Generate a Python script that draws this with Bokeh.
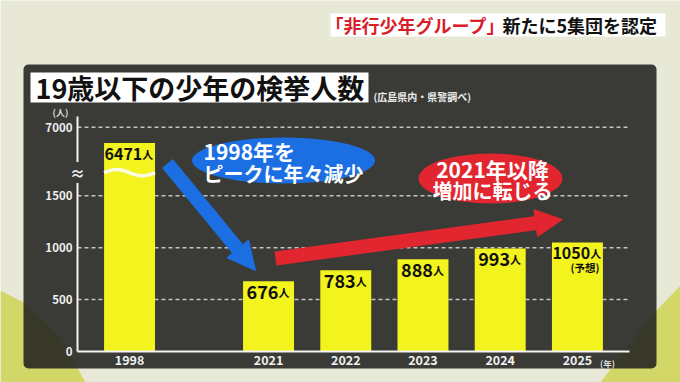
import numpy as np
from bokeh.plotting import figure
from bokeh.models import (Range1d, FixedTicker, BoxAnnotation, PolyAnnotation, Label,
                          Arrow, NormalHead, ColumnDataSource)
from bokeh.core.properties import value
from bokeh.embed import file_html
from bokeh.resources import INLINE

# ---------------- data ----------------
YEARS = [1998, 2021, 2022, 2023, 2024, 2025]
YEAR_LABELS = ["1998", "2021", "2022", "2023", "2024", "2025"]
COUNTS = [6471, 676, 783, 888, 993, 1050]
NOTES = ["", "", "", "", "", "(予想)"]
Y_TICKS = [0, 500, 1000, 1500, 7000]
UNIT = "人"

TITLE = "19歳以下の少年の検挙人数"
SOURCE = "(広島県内・県警調べ)"
HEAD_RED = "「非行少年グループ」"
HEAD_BLACK = "新たに5集団を認定"
BUBBLE_BLUE = ["1998年を", "ピークに年々減少"]
BUBBLE_RED = ["2021年以降", "増加に転じる"]

FONT_NAME = "Noto Sans CJK JP"
FONT = value(FONT_NAME)

# ---------------- broken axes ----------------
def x_pos(year):
    # gap between 1998 and 2021 on the x axis
    return 0 if year == 1998 else 18 + 10 * (year - 2021)

UPPER_TOP, UPPER_AT, UPPER_SCALE = 7000, 2160, 0.29
def y_pos(v):
    # linear up to the break, compressed segment above it
    return v if v <= 3000 else UPPER_AT - (UPPER_TOP - v) * UPPER_SCALE

BREAK_Y = 1722
X_AXIS_SPAN = (-6.74, 64.74)
Y_AXIS_SPAN = (0, 2263)

# ---------------- figure ----------------
BG = "#e7e8d5"
p = figure(width=680, height=382, output_backend="svg", toolbar_location=None,
           title_location=None,
           x_range=Range1d(-16.711, 71.347), y_range=Range1d(-298.5, 3379.9),
           min_border=0, min_border_left=0, min_border_right=0,
           min_border_top=0, min_border_bottom=0,
           border_fill_color=BG, background_fill_color=BG, outline_line_color=None)

# background decorations
p.add_layout(PolyAnnotation(xs=[0, 23, 60, 85, 0], ys=[290, 302, 337, 382, 382],
                            xs_units="canvas", ys_units="canvas",
                            fill_color="#d3d767", fill_alpha=1, line_color=None, level="image"))
p.add_layout(PolyAnnotation(xs=[680, 656, 630, 600, 680], ys=[285, 310, 342, 382, 382],
                            xs_units="canvas", ys_units="canvas",
                            fill_color="#d3d767", fill_alpha=1, line_color=None, level="image"))
# dark panel
p.add_layout(BoxAnnotation(left=23, right=656, top=64, bottom=368,
                           left_units="canvas", right_units="canvas",
                           top_units="canvas", bottom_units="canvas",
                           fill_color="#222220", fill_alpha=0.88, line_color=None,
                           border_radius=5, level="image"))

# axes (fixed inside the panel)
p.xaxis.fixed_location = 0
p.xaxis.bounds = X_AXIS_SPAN
p.yaxis.fixed_location = X_AXIS_SPAN[0]
p.yaxis.bounds = Y_AXIS_SPAN
p.xaxis.ticker = FixedTicker(ticks=[x_pos(y) for y in YEARS])
p.xaxis.major_label_overrides = {x_pos(y): lab for y, lab in zip(YEARS, YEAR_LABELS)}
p.yaxis.ticker = FixedTicker(ticks=[y_pos(v) for v in Y_TICKS])
p.yaxis.major_label_overrides = {y_pos(v): str(v) for v in Y_TICKS}
for ax in (p.xaxis[0], p.yaxis[0]):
    ax.axis_line_color = "#f4f4f4"
    ax.axis_line_width = 2
    ax.major_tick_line_color = None
    ax.minor_tick_line_color = None
    ax.major_tick_out = 0
    ax.major_tick_in = 0
    ax.major_label_text_color = "#f0f0f0"
    ax.major_label_text_font = FONT_NAME
    ax.major_label_text_font_style = "bold"
p.xaxis.major_label_text_font_size = "12.5px"
p.xaxis.major_label_standoff = 3
p.yaxis.major_label_text_font_size = "11.5px"
p.yaxis.major_label_standoff = 5

p.xgrid.visible = False
p.ygrid.visible = False

# dashed grid lines at the y ticks
grid_y = [y_pos(v) for v in Y_TICKS if v > 0]
p.segment(x0=[X_AXIS_SPAN[0]] * len(grid_y), x1=[X_AXIS_SPAN[1]] * len(grid_y),
          y0=grid_y, y1=grid_y, line_color="#c4c4c4", line_dash="4 3", line_width=1.5)

# bars
NUM_FS = [16, 18, 18, 18, 18, 16]
UNIT_FS = 11
num_txt = [str(c) for c in COUNTS]
num_w = [len(t) * 0.57 * fs for t, fs in zip(num_txt, NUM_FS)]
num_dx = [(w - UNIT_FS) / 2 for w in num_w]

src = ColumnDataSource(dict(
    x=[x_pos(y) for y in YEARS],
    top=[y_pos(c) for c in COUNTS],
    num=num_txt,
    unit=[UNIT] * len(COUNTS),
    fs=[f"{f}px" for f in NUM_FS],
    dx=num_dx,
))
p.vbar(x="x", top="top", width=6.6, source=src, fill_color="#f3f31e", line_color=None)

# break wave on the 1998 bar
wx = np.linspace(x_pos(1998) - 3.3, x_pos(1998) + 3.3, 60)
wy = BREAK_Y + 30 * np.sin(2 * np.pi * (wx - wx[0]) / (wx[-1] - wx[0]))
p.line(wx, wy, line_color="#fbfbe6", line_width=3.5)

p.text(x="x", y="top", text="num", source=src, text_font=FONT, text_font_style="bold",
       text_font_size="fs", x_offset="dx", y_offset=11, text_align="right",
       text_baseline="alphabetic", text_color="#111111")
p.text(x="x", y="top", text="unit", source=src, text_font=FONT, text_font_style="bold",
       text_font_size=f"{UNIT_FS}px", x_offset="dx", y_offset=11, text_align="left",
       text_baseline="alphabetic", text_color="#111111")
nsrc = ColumnDataSource(dict(
    x=[x_pos(y) for y, n in zip(YEARS, NOTES) if n],
    top=[y_pos(c) for c, n in zip(COUNTS, NOTES) if n],
    note=[n for n in NOTES if n],
))
p.text(x="x", y="top", text="note", source=nsrc, text_font=FONT, text_font_style="bold",
       text_font_size="10.5px", x_offset=7.5, y_offset=25, text_align="center",
       text_baseline="middle", text_color="#111111")

# bubbles
BLUE = "#1c6fe3"
RED = "#e2262f"
p.ellipse(x=19.94, y=1839, width=183, height=46, width_units="screen", height_units="screen",
          fill_color=BLUE, line_color=None)
p.ellipse(x=46.74, y=1666, width=144, height=50, width_units="screen", height_units="screen",
          fill_color=RED, line_color=None)

# arrows
p.add_layout(Arrow(x_start=4.91, y_start=1810, x_end=16.31, y_end=780,
                   line_color=BLUE, line_width=14,
                   end=NormalHead(size=28, fill_color=BLUE, line_color=BLUE)))
p.add_layout(Arrow(x_start=18.90, y_start=896, x_end=56.07, y_end=1271,
                   line_color=RED, line_width=14,
                   end=NormalHead(size=27, fill_color=RED, line_color=RED)))

def canvas_label(x, y, text, size, color, align="left", baseline="middle", style="bold", **kw):
    p.add_layout(Label(x=x, y=y, x_units="canvas", y_units="canvas", text=text,
                       text_font=FONT_NAME, text_font_size=size, text_font_style=style,
                       text_color=color, text_align=align, text_baseline=baseline, **kw))

# bubble texts
canvas_label(203, 150, BUBBLE_BLUE[0], "21px", "white")
canvas_label(203, 173, BUBBLE_BLUE[1], "20px", "white")
canvas_label(492, 168, BUBBLE_RED[0], "21px", "white", align="center")
canvas_label(492, 190, BUBBLE_RED[1], "20px", "white", align="center")

# axis break mark
canvas_label(77, 172, "≈", "15px", "#f0f0f0", align="center",
             background_fill_color="#3a3a37")
# unit labels
canvas_label(60, 112, "(人)", "9px", "#dddddd", align="center")
canvas_label(607, 362, "(年)", "8.5px", "#dddddd", align="center")

# title box
p.add_layout(BoxAnnotation(left=30, right=368, top=72, bottom=102,
                           left_units="canvas", right_units="canvas",
                           top_units="canvas", bottom_units="canvas",
                           fill_color="white", fill_alpha=1, line_color=None))
canvas_label(35, 87, TITLE, "27px", "#111111")
canvas_label(373, 96, SOURCE, "10px", "#eeeeee")

# header box
p.add_layout(BoxAnnotation(left=330, right=665, top=13, bottom=36,
                           left_units="canvas", right_units="canvas",
                           top_units="canvas", bottom_units="canvas",
                           fill_color="white", fill_alpha=1, line_color=None))
canvas_label(325, 24.5, HEAD_RED, "18px", "#d9202a")
canvas_label(502, 24.5, HEAD_BLACK, "18px", "#111111")

open("out.html", "w").write(file_html(p, INLINE))
